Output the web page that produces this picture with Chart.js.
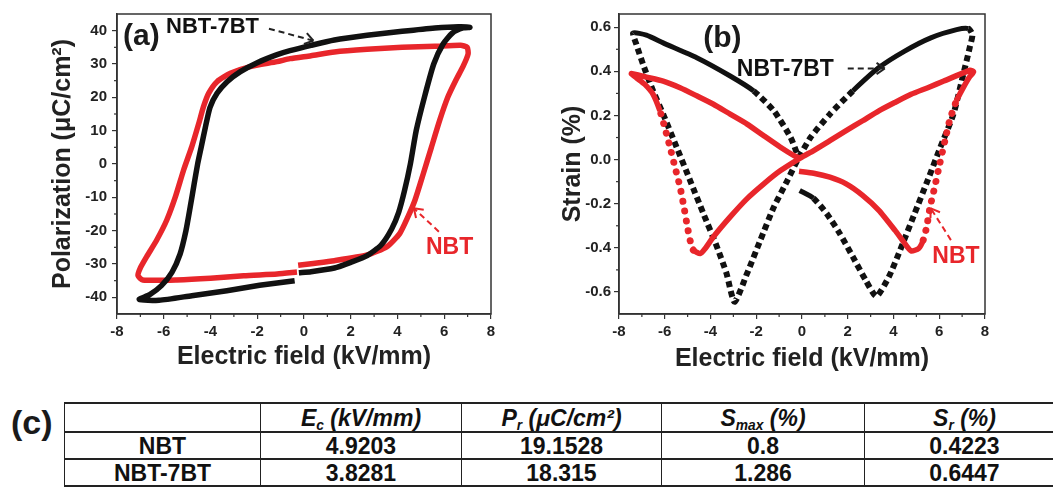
<!DOCTYPE html>
<html>
<head>
<meta charset="utf-8">
<script src="https://cdn.jsdelivr.net/npm/chart.js@4.4.1/dist/chart.umd.min.js"></script>
<style>
  body { margin: 0; background: #fff; width: 1053px; height: 488px; overflow: hidden; position: relative;
         font-family: "Liberation Sans", Arial, sans-serif; }
  #peChart { position: absolute; left: 0; top: 0; }
  #strainChart { position: absolute; left: 520px; top: 0; }
  #tagC { position: absolute; left: 11px; top: 402px; font-size: 34px; font-weight: bold; color: #1a1a1a; line-height: 40px; }
  #tbl { position: absolute; left: 64px; top: 402px; border-collapse: collapse; table-layout: fixed; width: 1000px; }
  #tbl td { border-left: 1.5px solid #222; border-right: 1.5px solid #222; border-top: 2.5px solid #222; border-bottom: 2.5px solid #222;
            text-align: center; font-size: 23px; font-weight: bold; color: #111; padding: 0; line-height: 24px; }
  #tbl tr.head td { height: 27px; font-style: italic; }
  #tbl tr.row td { height: 25px; }
  #tbl sub { font-size: 0.6em; line-height: 0; vertical-align: -0.3em; }
</style>
</head>
<body>
<canvas id="peChart" width="520" height="380"></canvas>
<canvas id="strainChart" width="533" height="380"></canvas>
<div id="tagC">(c)</div>
<table id="tbl"><colgroup></colgroup><tbody id="tbody"></tbody></table>

<script>
// =============================
// (a) P-E loops
// =============================
const peFieldNBT = [-0.25, 0.3, 1.3, 2.7, 3.55, 4.1, 4.45, 4.75, 5.1, 5.45,
                    5.8, 6.15, 6.5, 6.8, 7.02, 6.98, 6.7, 5.6, 4.2, 2.7,
                    1.3, 0.3, -0.6, -1.15, -2.3, -3.15, -3.72, -4.08, -4.3, -4.5,
                    -4.8, -5.15, -5.5, -5.87, -6.3, -6.73, -7.01, -7.1, -6.9, -5.44,
                    -4.0, -2.58, -1.15, -0.3];
const pePolNBT = [-30.4, -29.9, -29.0, -27.3, -24.8, -20.8, -15.8, -10.8, -3.0, 5.0,
                  13.0, 20.0, 25.2, 29.2, 33.0, 35.0, 35.6, 35.3, 35.0, 34.4,
                  33.6, 32.5, 31.6, 30.7, 29.2, 27.2, 24.7, 21.2, 17.2, 12.2,
                  5.2, -1.8, -9.8, -16.8, -22.8, -27.8, -31.3, -33.5, -34.8, -34.8,
                  -34.3, -33.5, -33.0, -32.4];

const peField7BT = [-0.22, 0.3, 1.3, 2.0, 2.7, 3.3, 3.75, 4.05, 4.3, 4.55,
                    4.8, 5.15, 5.55, 5.95, 6.35, 6.8, 7.1, 6.6, 5.6, 4.2,
                    2.7, 1.3, 0.3, -0.6, -1.15, -2.0, -2.72, -3.29, -3.72, -4.02,
                    -4.22, -4.4, -4.55, -4.7, -4.87, -5.05, -5.3, -5.65, -6.1, -6.6,
                    -7.05, -6.2, -4.8, -3.3, -1.9, -0.4];
const pePol7BT = [-32.6, -32.3, -31.2, -29.5, -27.5, -24.3, -19.5, -14.5, -8.0, 0.0,
                  10.0, 20.0, 30.0, 36.0, 39.3, 40.8, 41.0, 41.2, 40.8, 39.8,
                  38.6, 37.2, 35.6, 34.0, 32.8, 30.4, 27.7, 24.7, 21.2, 17.0,
                  11.0, 5.0, 0.0, -6.0, -13.0, -20.0, -27.0, -32.5, -36.5, -39.2,
                  -40.6, -40.9, -39.5, -38.0, -36.4, -35.0];

// =============================
// (b) strain butterflies
// =============================
const sFieldNBT = [-0.13, 0.51, 1.22, 1.93, 2.65, 3.36, 4.06, 4.49, 4.77, 5.1,
                   5.3, 5.45, 5.6, 5.8, 6.02, 6.25, 6.45, 6.75, 7.05, 7.3,
                   7.5, 7.35, 6.2, 5.5, 4.77, 4.06, 3.36, 2.65, 1.93, 1.22,
                   0.51, -0.06, -0.94, -1.67, -2.4, -3.14, -3.87, -4.23, -4.45, -4.75,
                   -4.86, -5.01, -5.16, -5.33, -5.55, -5.77, -6.0, -6.21, -6.51, -6.87,
                   -7.24, -7.46, -6.8, -6.07, -5.33, -4.6, -3.87, -3.14, -2.4, -1.67,
                   -0.94, -0.35, -0.13];
const strainNBT = [-0.053, -0.062, -0.08, -0.11, -0.162, -0.23, -0.32, -0.38, -0.414, -0.403,
                   -0.365, -0.305, -0.215, -0.125, -0.02, 0.086, 0.176, 0.266, 0.326, 0.371,
                   0.398, 0.405, 0.356, 0.326, 0.296, 0.259, 0.221, 0.176, 0.131, 0.086,
                   0.041, 0.008, -0.05, -0.11, -0.177, -0.26, -0.35, -0.403, -0.426, -0.41,
                   -0.38, -0.305, -0.215, -0.125, -0.035, 0.056, 0.146, 0.221, 0.296, 0.341,
                   0.371, 0.39, 0.374, 0.356, 0.326, 0.289, 0.251, 0.206, 0.161, 0.108,
                   0.056, 0.018, 0.008];

const sField7BT = [-0.1, 0.5, 1.08, 1.65, 2.22, 2.78, 3.25, 3.8, 4.35, 4.92,
                   5.49, 6.05, 6.62, 7.05, 7.33, 7.45, 7.27, 6.76, 5.63, 4.49,
                   3.36, 2.22, 1.22, 0.37, -0.21, -0.64, -1.23, -1.82, -2.4, -2.95,
                   -3.3, -3.72, -4.31, -4.89, -5.48, -6.07, -6.51, -6.95, -7.24, -7.38,
                   -6.8, -6.07, -4.6, -3.14, -2.11, -1.23, -0.5, -0.21];
const strain7BT = [-0.14, -0.175, -0.245, -0.335, -0.44, -0.546, -0.62, -0.531, -0.395, -0.245,
                   -0.095, 0.056, 0.206, 0.386, 0.507, 0.567, 0.594, 0.589, 0.552, 0.492,
                   0.417, 0.311, 0.206, 0.10, -0.005, -0.095, -0.215, -0.365, -0.516, -0.645,
                   -0.516, -0.395, -0.245, -0.095, 0.056, 0.206, 0.311, 0.432, 0.522, 0.574,
                   0.564, 0.529, 0.462, 0.379, 0.311, 0.221, 0.101, 0.026];

// tick values
const fieldTicks = [-8, -6, -4, -2, 0, 2, 4, 6, 8];
const fieldMinor = [-7, -5, -3, -1, 1, 3, 5, 7];
const polTicks = [-40, -30, -20, -10, 0, 10, 20, 30, 40];
const polMinor = [-35, -25, -15, -5, 5, 15, 25, 35];
const strainTicks = [-0.6, -0.4, -0.2, 0, 0.2, 0.4, 0.6];
const strainMinor = [-0.5, -0.3, -0.1, 0.1, 0.3, 0.5];

// (c) table
const tableHead = ["", "<i>E<sub>c</sub> (kV/mm)</i>", "<i>P<sub>r</sub> (μC/cm²)</i>",
                   "<i>S<sub>max</sub> (%)</i>", "<i>S<sub>r</sub> (%)</i>"];
const sampleNames = ["NBT", "NBT-7BT"];
const coerciveField = ["4.9203", "3.8281"];
const remanentPol = ["19.1528", "18.315"];
const maxStrain = ["0.8", "1.286"];
const remanentStrain = ["0.4223", "0.6447"];
const colWidths = [196, 201, 200, 203, 200];

const RED = "#e8262b";
const BLACK = "#111111";
const FONT = "'Liberation Sans', Arial, sans-serif";

function pairs(xs, ys) {
    return xs.map((x, i) => ({ x: x, y: ys[i] }));
}

// -------------------------
// frame, minor ticks, labels, arrows
// -------------------------
function drawArrow(ctx, x0, y0, x1, y1, color) {
    ctx.strokeStyle = color;
    ctx.lineWidth = 2;
    ctx.setLineDash([6, 4]);
    ctx.beginPath();
    ctx.moveTo(x0, y0);
    ctx.lineTo(x1, y1);
    ctx.stroke();
    ctx.setLineDash([]);
    const ang = Math.atan2(y1 - y0, x1 - x0);
    [0.6, -0.6].forEach(d => {
        ctx.beginPath();
        ctx.moveTo(x1, y1);
        ctx.lineTo(x1 - 10 * Math.cos(ang + d), y1 - 10 * Math.sin(ang + d));
        ctx.stroke();
    });
}

function decorPlugin(xMinor, yMinor, notes, arrows) {
    return {
        id: "decor",
        afterDraw(chart) {
            const ctx = chart.ctx;
            const a = chart.chartArea;
            const sx = chart.scales.x;
            const sy = chart.scales.y;
            ctx.save();

            ctx.strokeStyle = "#333";
            ctx.lineWidth = 1.5;
            ctx.strokeRect(a.left, a.top, a.right - a.left, a.bottom - a.top);

            ctx.lineWidth = 1.2;
            xMinor.forEach(v => {
                const x = sx.getPixelForValue(v);
                ctx.beginPath(); ctx.moveTo(x, a.bottom); ctx.lineTo(x, a.bottom + 3); ctx.stroke();
            });
            yMinor.forEach(v => {
                const y = sy.getPixelForValue(v);
                ctx.beginPath(); ctx.moveTo(a.left, y); ctx.lineTo(a.left - 3, y); ctx.stroke();
            });

            notes.forEach(n => {
                ctx.font = n.font;
                ctx.fillStyle = n.color;
                ctx.textAlign = n.align;
                ctx.textBaseline = "middle";
                ctx.fillText(n.text, sx.getPixelForValue(n.x), sy.getPixelForValue(n.y));
            });

            arrows.forEach(r => {
                drawArrow(ctx, sx.getPixelForValue(r.x0), sy.getPixelForValue(r.y0),
                          sx.getPixelForValue(r.x1), sy.getPixelForValue(r.y1), r.color);
            });
            ctx.restore();
        }
    };
}

function axis(min, max, tickList, fmt, title, titlePad, labelPad, fitSize, horizontal) {
    return {
        type: "linear",
        min: min,
        max: max,
        afterBuildTicks: s => { s.ticks = tickList.map(v => ({ value: v })); },
        afterFit: s => { if (horizontal) { s.height = fitSize; } else { s.width = fitSize; } },
        ticks: {
            autoSkip: false,
            padding: labelPad,
            color: "#222",
            font: { family: FONT, size: 15, weight: "bold" },
            callback: v => fmt(v)
        },
        grid: { drawOnChartArea: false, drawTicks: true, tickLength: 5, color: "#333", lineWidth: 1.2 },
        border: { display: true, color: "#333", width: 1.5 },
        title: {
            display: true,
            text: title,
            color: "#222",
            font: { family: FONT, size: 25, weight: "bold" },
            padding: horizontal ? { top: 0, bottom: titlePad } : { top: titlePad, bottom: 0 }
        }
    };
}

// segment styles for the scatter-like look
const steepness = ctx => {
    const dx = Math.abs(ctx.p1.x - ctx.p0.x);
    const dy = Math.abs(ctx.p1.y - ctx.p0.y);
    return dy / Math.max(dx, 0.001);
};

// =============================
// (a) Polarization chart
// =============================
new Chart(document.getElementById("peChart"), {
    type: "scatter",
    data: {
        datasets: [
            {
                label: "NBT-7BT",
                data: pairs(peField7BT, pePol7BT),
                showLine: true,
                borderColor: BLACK,
                borderWidth: 5.5,
                pointRadius: 0,
                tension: 0.2,
                order: 0
            },
            {
                label: "NBT",
                data: pairs(peFieldNBT, pePolNBT),
                showLine: true,
                borderColor: RED,
                borderWidth: 5.5,
                pointRadius: 0,
                tension: 0.2,
                order: 1
            }
        ]
    },
    options: {
        responsive: false,
        animation: false,
        layout: { padding: { left: 0, top: 14, right: 29, bottom: 0 } },
        plugins: { legend: { display: false }, tooltip: { enabled: false } },
        scales: {
            x: axis(-8, 8, fieldTicks, v => v, "Electric field (kV/mm)", 8, 4, 66, true),
            y: axis(-45, 45, polTicks, v => v, "Polarization (μC/cm²)", 48, 5, 117, false)
        }
    },
    plugins: [decorPlugin(fieldMinor, polMinor,
        [
            { text: "(a)", x: -7.74, y: 38.2, align: "left", color: "#1a1a1a", font: "bold 30px " + FONT },
            { text: "NBT-7BT", x: -5.9, y: 41.0, align: "left", color: "#111", font: "bold 22px " + FONT },
            { text: "NBT", x: 6.23, y: -25.0, align: "center", color: RED, font: "bold 23px " + FONT }
        ],
        [
            { x0: -1.5, y0: 40.6, x1: 0.4, y1: 37.0, color: "#222" },
            { x0: 5.77, y0: -20.3, x1: 4.7, y1: -13.3, color: RED }
        ])]
});

// =============================
// (b) Strain chart
// =============================
new Chart(document.getElementById("strainChart"), {
    type: "scatter",
    data: {
        datasets: [
            {
                label: "NBT",
                data: pairs(sFieldNBT, strainNBT),
                showLine: true,
                borderColor: RED,
                borderWidth: 5.5,
                pointRadius: 0,
                tension: 0.2,
                order: 0,
                segment: {
                    borderDash: ctx => steepness(ctx) > 2.5 ? [0.01, 10] : undefined,
                    borderCapStyle: ctx => steepness(ctx) > 2.5 ? "round" : undefined,
                    borderWidth: ctx => steepness(ctx) > 2.5 ? 7 : undefined
                }
            },
            {
                label: "NBT-7BT",
                data: pairs(sField7BT, strain7BT),
                showLine: true,
                borderColor: BLACK,
                borderWidth: 5,
                pointRadius: 0,
                tension: 0.2,
                order: 1,
                segment: {
                    borderDash: ctx => steepness(ctx) > 0.95 ? [6, 4] : undefined,
                    borderCapStyle: ctx => steepness(ctx) > 0.95 ? "butt" : undefined,
                    borderWidth: ctx => steepness(ctx) > 0.95 ? 6 : undefined
                }
            }
        ]
    },
    options: {
        responsive: false,
        animation: false,
        layout: { padding: { left: 0, top: 14, right: 68, bottom: 0 } },
        plugins: { legend: { display: false }, tooltip: { enabled: false } },
        scales: {
            x: axis(-8, 8, fieldTicks, v => v, "Electric field (kV/mm)", 6, 4, 66, true),
            y: axis(-0.7, 0.66, strainTicks, v => v.toFixed(1), "Strain (%)", 38, 3, 99, false)
        }
    },
    plugins: [decorPlugin(fieldMinor, strainMinor,
        [
            { text: "(b)", x: -3.48, y: 0.549, align: "center", color: "#1a1a1a", font: "bold 30px " + FONT },
            { text: "NBT-7BT", x: -2.85, y: 0.409, align: "left", color: "#111", font: "bold 23px " + FONT },
            { text: "NBT", x: 6.73, y: -0.442, align: "center", color: RED, font: "bold 23px " + FONT }
        ],
        [
            { x0: 2.0, y0: 0.413, x1: 3.62, y1: 0.413, color: "#222" },
            { x0: 6.51, y0: -0.365, x1: 5.63, y1: -0.221, color: RED }
        ])]
});

// =============================
// (c) Table
// =============================
const colgroup = document.querySelector("#tbl colgroup");
colWidths.forEach(w => {
    const col = document.createElement("col");
    col.style.width = w + "px";
    colgroup.appendChild(col);
});

const tbody = document.getElementById("tbody");
tbody.innerHTML = "<tr class='head'>" + tableHead.map(h => "<td>" + h + "</td>").join("") + "</tr>";
sampleNames.forEach((name, i) => {
    tbody.innerHTML += `
        <tr class="row">
            <td>${name}</td>
            <td>${coerciveField[i]}</td>
            <td>${remanentPol[i]}</td>
            <td>${maxStrain[i]}</td>
            <td>${remanentStrain[i]}</td>
        </tr>`;
});
</script>
</body>
</html>
